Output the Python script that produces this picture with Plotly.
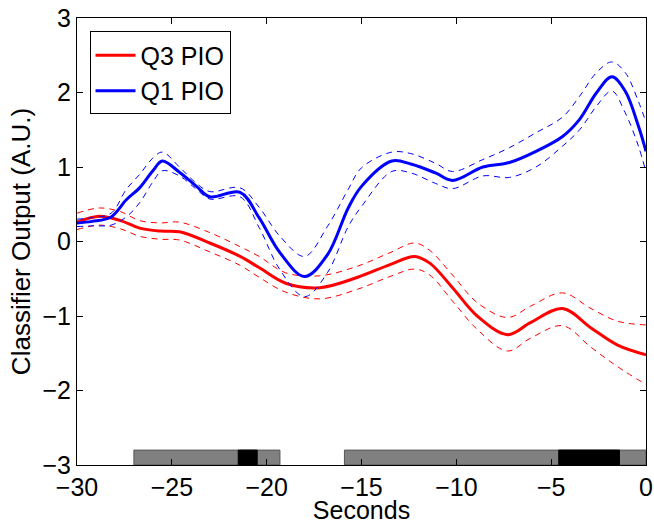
import plotly.graph_objects as go

# Q1 PIO (blue) - mean and dashed error bounds
q1_t = [-30, -29.2, -28.2, -27.4, -26.7, -26.0, -25.5, -24.6, -23.7, -23.0, -21.4, -20.4, -19.3,
        -18.0, -16.8, -15.7, -15.0, -13.4, -12.4, -11.1, -10.2, -8.6, -7.2, -5.8, -4.4,
        -3.5, -2.6, -1.8, -1.1, -0.4, 0]
q1_mean = [0.25, 0.27, 0.33, 0.56, 0.72, 0.95, 1.08, 0.93, 0.74, 0.6, 0.66, 0.32, -0.15,
           -0.47, -0.18, 0.45, 0.74, 1.08, 1.04, 0.92, 0.82, 1.0, 1.06, 1.21, 1.41,
           1.64, 2.0, 2.21, 2.02, 1.55, 1.21]
q1_upper = [0.3, 0.32, 0.38, 0.7, 0.9, 1.12, 1.2, 1.0, 0.78, 0.67, 0.72, 0.46, 0.07,
            -0.2, 0.2, 0.7, 0.99, 1.2, 1.18, 1.05, 0.94, 1.1, 1.26, 1.46, 1.67,
            1.95, 2.27, 2.41, 2.27, 1.88, 1.6]
q1_lower = [0.2, 0.21, 0.22, 0.33, 0.52, 0.8, 0.95, 0.88, 0.7, 0.57, 0.6, 0.19, -0.38,
            -0.74, -0.42, 0.2, 0.47, 0.94, 0.92, 0.78, 0.71, 0.88, 0.86, 1.0, 1.28,
            1.5, 1.82, 2.02, 1.73, 1.28, 0.93]

# Q3 PIO (red)
q3_t = [-30, -28.8, -27.7, -26.7, -25.6, -24.6, -23.0, -21.4, -20.4, -19.0, -17.2, -15.2,
        -13.5, -12.2, -11.4, -10.2, -8.9, -7.3, -6.1, -4.4, -2.9, -1.5, 0]
q3_mean = [0.26, 0.34, 0.28, 0.18, 0.14, 0.13, -0.02, -0.2, -0.35, -0.56, -0.62, -0.48,
           -0.31, -0.2, -0.29, -0.62, -1.0, -1.25, -1.09, -0.9, -1.16, -1.39, -1.52]
q3_upper = [0.38, 0.45, 0.4, 0.28, 0.25, 0.26, 0.12, -0.07, -0.2, -0.42, -0.46, -0.33,
            -0.15, -0.02, -0.12, -0.45, -0.82, -1.02, -0.87, -0.69, -0.9, -1.07, -1.12]
q3_lower = [0.16, 0.22, 0.17, 0.07, 0.03, 0.02, -0.14, -0.32, -0.48, -0.68, -0.77, -0.64,
            -0.47, -0.37, -0.45, -0.8, -1.18, -1.47, -1.3, -1.13, -1.42, -1.68, -1.92]

# event bars along the bottom
gray_start = [-27.0, -15.9]
gray_end = [-19.3, 0]
black_start = [-21.5, -4.6]
black_end = [-20.5, -1.4]

fig = go.Figure()

for s, e in zip(gray_start, gray_end):
    fig.add_trace(go.Bar(y=[-2.9], x=[e - s], base=[s], orientation='h', width=0.2,
                         marker=dict(color='#808080', line=dict(color='#555555', width=1)),
                         showlegend=False, hoverinfo='skip'))
for s, e in zip(black_start, black_end):
    fig.add_trace(go.Bar(y=[-2.9], x=[e - s], base=[s], orientation='h', width=0.2,
                         marker=dict(color='black', line=dict(color='black', width=1)),
                         showlegend=False, hoverinfo='skip'))

for t, m, u, l, col, name in [(q3_t, q3_mean, q3_upper, q3_lower, '#ff0000', 'Q3 PIO'),
                              (q1_t, q1_mean, q1_upper, q1_lower, '#0000ff', 'Q1 PIO')]:
    for b in (u, l):
        fig.add_trace(go.Scatter(x=t, y=b, mode='lines', showlegend=False,
                                 line=dict(color=col, width=1, dash='6px,5px', shape='spline',
                                           smoothing=1.0)))
    fig.add_trace(go.Scatter(x=t, y=m, mode='lines', name=name,
                             line=dict(color=col, width=3, shape='spline', smoothing=1.0)))

fig.update_layout(
    width=654, height=524,
    margin=dict(l=77, r=8, t=18, b=59),
    plot_bgcolor='white', paper_bgcolor='white',
    font=dict(family='Liberation Sans, Arial, sans-serif', size=25, color='black'),
    barmode='overlay',
    legend=dict(x=0.022, y=0.97, xanchor='left', yanchor='top', bgcolor='white',
                bordercolor='black', borderwidth=1, font=dict(size=25),
                tracegroupgap=0, itemwidth=40),
    showlegend=True,
)
fig.update_xaxes(range=[-30, 0], dtick=5, showline=True, linecolor='black', linewidth=1,
                 mirror='ticks', ticks='inside', ticklen=6, tickcolor='black',
                 showgrid=False, zeroline=False, automargin=False,
                 tickfont=dict(size=25),
                 title=dict(text='Seconds', standoff=3, font=dict(size=25)))
fig.update_yaxes(range=[-3, 3], dtick=1, showline=True, linecolor='black', linewidth=1,
                 mirror='ticks', ticks='inside', ticklen=6, tickcolor='black',
                 showgrid=False, zeroline=False, automargin=False,
                 tickfont=dict(size=25),
                 title=dict(text='Classifier Output (A.U.)', standoff=4, font=dict(size=26)))

# the page's default body margin would shift the figure by 8px
fig.write_html("out.html", config={'displayModeBar': False},
               post_script="document.body.style.margin='0';")
